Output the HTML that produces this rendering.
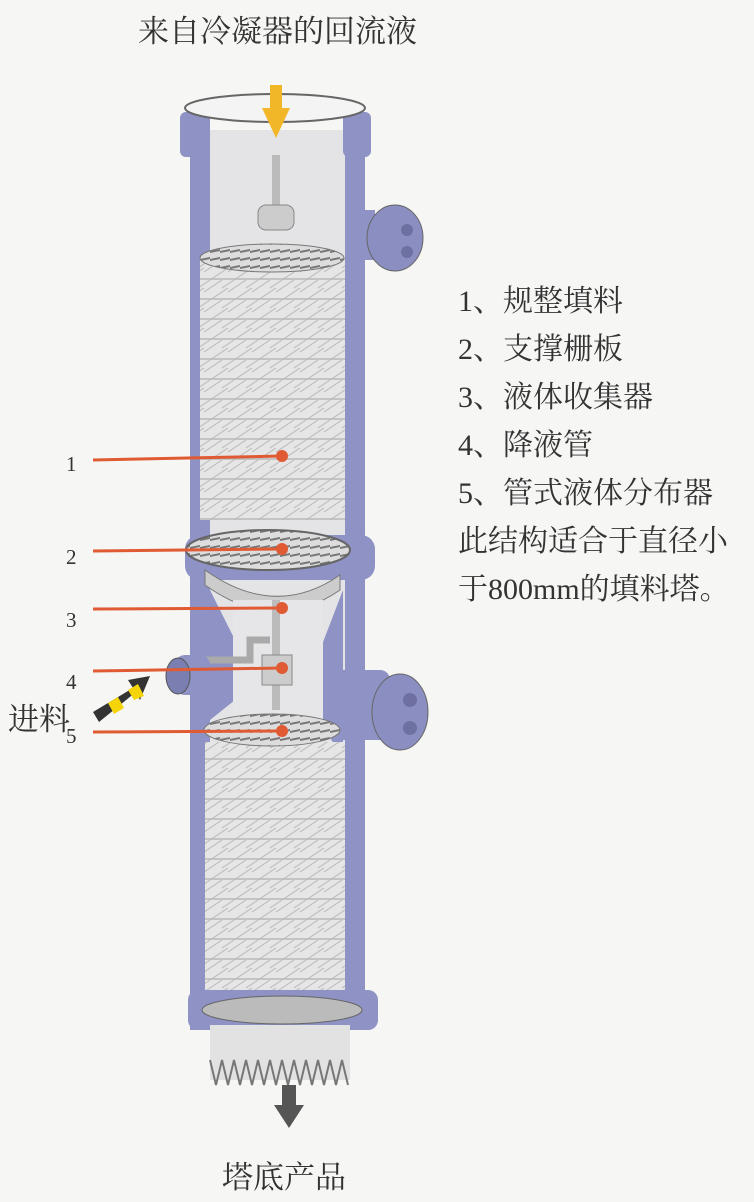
<!DOCTYPE html>
<html><head><meta charset="utf-8"><style>
html,body{margin:0;padding:0;background:#f6f6f4;}
body{width:754px;height:1202px;position:relative;overflow:hidden;font-family:"Liberation Serif","Noto Serif CJK SC","Noto Sans CJK SC",serif;color:#333;}
.t{position:absolute;white-space:nowrap;}
</style></head><body>
<svg width="754" height="1202" style="position:absolute;left:0;top:0">
<defs>
<pattern id="pk" width="24" height="20" patternUnits="userSpaceOnUse">
<rect width="24" height="20" fill="#e6e6e6"/>
<path d="M0 4 L6 0 M6 8 L18 0 M12 12 L24 4 M0 16 L12 8 M18 20 L24 16" stroke="#c0c0c0" stroke-width="1.2"/>
<line x1="0" y1="19" x2="24" y2="19" stroke="#b8b8b8" stroke-width="1.5"/>
</pattern>
<pattern id="gr" width="10" height="8" patternUnits="userSpaceOnUse">
<rect width="10" height="8" fill="#ddd"/><line x1="0" y1="4" x2="10" y2="2" stroke="#777" stroke-width="2"/>
</pattern>
</defs>
<rect x="190" y="130" width="22" height="900" fill="#8e92c4"/>
<rect x="343" y="130" width="22" height="900" fill="#8e92c4"/>
<rect x="210" y="130" width="135" height="900" fill="#e4e4e6"/>
<rect x="180" y="112" width="30" height="45" rx="6" fill="#8e92c4"/>
<rect x="343" y="112" width="28" height="45" rx="6" fill="#8e92c4"/>
<ellipse cx="275" cy="108" rx="90" ry="14" fill="#f4f4f4" stroke="#666" stroke-width="2"/>
<rect x="270" y="85" width="12" height="25" fill="#f2b728"/>
<polygon points="262,108 290,108 276,138" fill="#f2b728"/>
<rect x="272" y="155" width="8" height="50" fill="#bbb"/>
<rect x="258" y="205" width="36" height="25" rx="8" fill="#ccc" stroke="#888"/>
<rect x="345" y="210" width="30" height="50" fill="#8e92c4"/>
<ellipse cx="395" cy="238" rx="28" ry="33" fill="#8a8ec0" stroke="#666"/>
<circle cx="407" cy="230" r="6" fill="#6d70a0"/><circle cx="407" cy="252" r="6" fill="#6d70a0"/>
<rect x="200" y="258" width="145" height="262" fill="url(#pk)"/>
<ellipse cx="272" cy="258" rx="72" ry="14" fill="url(#gr)" stroke="#777"/>
<rect x="185" y="535" width="190" height="45" rx="14" fill="#8e92c4"/>
<ellipse cx="268" cy="550" rx="82" ry="20" fill="url(#gr)" stroke="#666" stroke-width="2"/>
<path d="M205 570 Q275 620 340 575 L340 590 Q275 635 205 585Z" fill="#ccc" stroke="#777"/>
<path d="M210 590 L235 640 L235 700 L210 720Z" fill="#8e92c4"/>
<path d="M343 590 L320 650 L320 720 L343 760Z" fill="#8e92c4"/>
<rect x="233" y="600" width="90" height="130" fill="#e6e6e8"/>
<rect x="272" y="600" width="8" height="110" fill="#bbb"/>
<path d="M200 660 L250 660 L250 640 L270 640" fill="none" stroke="#aaa" stroke-width="7"/>
<rect x="262" y="655" width="30" height="30" fill="#ccc" stroke="#888"/>
<rect x="175" y="655" width="35" height="40" rx="10" fill="#8e92c4"/>
<ellipse cx="178" cy="676" rx="12" ry="18" fill="#7a7eb0" stroke="#555"/>
<rect x="330" y="670" width="60" height="70" rx="10" fill="#8e92c4"/>
<ellipse cx="400" cy="712" rx="28" ry="38" fill="#8a8ec0" stroke="#666"/>
<circle cx="410" cy="700" r="7" fill="#6d70a0"/><circle cx="410" cy="728" r="7" fill="#6d70a0"/>
<rect x="205" y="742" width="140" height="255" fill="url(#pk)"/>
<ellipse cx="272" cy="730" rx="68" ry="16" fill="url(#gr)" stroke="#777"/>
<rect x="188" y="990" width="190" height="40" rx="10" fill="#8e92c4"/>
<ellipse cx="282" cy="1010" rx="80" ry="14" fill="#bbb" stroke="#666"/>
<rect x="210" y="1025" width="140" height="55" fill="#e2e2e2"/>
<path d="M210 1060 l6 25 l6 -25 l6 25 l6 -25 l6 25 l6 -25 l6 25 l6 -25 l6 25 l6 -25 l6 25 l6 -25 l6 25 l6 -25 l6 25 l6 -25 l6 25 l6 -25 l6 25 l6 -25 l6 25 l6 -25 l6 25" fill="none" stroke="#777" stroke-width="2"/>
<rect x="282" y="1085" width="14" height="22" fill="#555"/>
<polygon points="274,1105 304,1105 289,1128" fill="#555"/>
<polygon points="93,712 133,688 128,680 150,676 140,700 136,692 99,722" fill="#333"/>
<polygon points="108,703 118,697 124,708 114,714" fill="#f5d50a"/>
<polygon points="128,690 138,684 144,696 134,700" fill="#f5d50a"/>
<g stroke="#e05a33" stroke-width="3"><line x1="93" y1="460" x2="282" y2="456"/><line x1="93" y1="551" x2="282" y2="549"/><line x1="93" y1="609" x2="282" y2="608"/><line x1="93" y1="671" x2="282" y2="668"/><line x1="93" y1="732" x2="282" y2="731"/></g>
<g fill="#e05a33"><circle cx="282" cy="456" r="6"/><circle cx="282" cy="549" r="6"/><circle cx="282" cy="608" r="6"/><circle cx="282" cy="668" r="6"/><circle cx="282" cy="731" r="6"/></g>
</svg>
<div class="t" style="left:138px;top:6px;font-size:31px">来自冷凝器的回流液</div>
<div class="t" style="left:222px;top:1152px;font-size:31px">塔底产品</div>
<div class="t" style="left:8px;top:694px;font-size:31px">进料</div>
<div class="t" style="left:66px;top:452px;font-size:21px">1</div>
<div class="t" style="left:66px;top:545px;font-size:21px">2</div>
<div class="t" style="left:66px;top:608px;font-size:21px">3</div>
<div class="t" style="left:66px;top:670px;font-size:21px">4</div>
<div class="t" style="left:66px;top:724px;font-size:21px">5</div>
<div class="t" style="left:458px;top:278px;font-size:30px;line-height:48px">1、规整填料<br>2、支撑栅板<br>3、液体收集器<br>4、降液管<br>5、管式液体分布器<br>此结构适合于直径小<br>于800mm的填料塔。</div>
</body></html>
